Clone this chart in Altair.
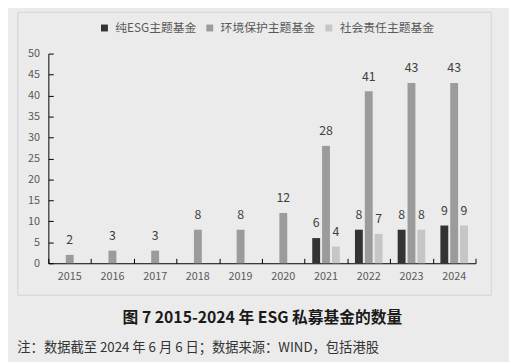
import altair as alt
import pandas as pd

years = ["2015", "2016", "2017", "2018", "2019", "2020", "2021", "2022", "2023", "2024"]
series = ["纯ESG主题基金", "环境保护主题基金", "社会责任主题基金"]
pure_esg = [None, None, None, None, None, None, 6, 8, 8, 9]
env_protect = [2, 3, 3, 8, 8, 12, 28, 41, 43, 43]
social_resp = [None, None, None, None, None, None, 4, 7, 8, 9]
colors = ["#333333", "#9b9b9b", "#c6c6c6"]
y_ticks = list(range(0, 51, 5))
caption = "图 7 2015-2024 年 ESG 私募基金的数量"
note = "注：数据截至 2024 年 6 月 6 日；数据来源：WIND，包括港股"

rows = []
for name, vals in zip(series, [pure_esg, env_protect, social_resp]):
    for yr, v in zip(years, vals):
        if v is not None:
            rows.append({"year": yr, "series": name, "value": v})
df = pd.DataFrame(rows)

FONT = "Noto Sans CJK SC"
W, H = 434, 213
BG = "#ebebeb"

x_scale = alt.Scale(domain=years, paddingInner=0, paddingOuter=0)
y_scale = alt.Scale(domain=[0, 50], nice=False)
off_scale = alt.Scale(domain=series, paddingInner=0.2, paddingOuter=0.77)

frame = alt.Chart(pd.DataFrame({"k": [0]})).mark_rect(
    filled=False, stroke="#d3d3d3", strokeWidth=1
).encode(
    x=alt.value(-31), x2=alt.value(450), y=alt.value(-42), y2=alt.value(245.5)
)

bars = alt.Chart(df).mark_bar().encode(
    x=alt.X("year:N", scale=x_scale, sort=years,
            axis=alt.Axis(orient="bottom", title=caption, ticks=False, labelAngle=0,
                          labelPadding=8, labelFontSize=11, labelColor="#595959",
                          labelFont=FONT, domainColor="#000000", domainWidth=1,
                          titleFont=FONT, titleFontSize=16, titleFontWeight="bold",
                          titleColor="#1a1a1a", titlePadding=28)),
    xOffset=alt.XOffset("series:N", scale=off_scale, sort=series),
    y=alt.Y("value:Q", scale=y_scale,
            axis=alt.Axis(orient="left", values=y_ticks, ticks=False, grid=False,
                          title=None, labelPadding=9, labelFontSize=11,
                          labelColor="#595959", labelFont=FONT,
                          domainColor="#000000", domainWidth=1)),
    color=alt.Color("series:N", scale=alt.Scale(domain=series, range=colors),
                    sort=series,
                    legend=alt.Legend(title=None, orient="none", direction="horizontal",
                                      legendX=51, legendY=-32, symbolType="square",
                                      symbolSize=49, symbolStrokeWidth=0,
                                      labelFont=FONT, labelFontSize=12,
                                      labelColor="#595959", labelOffset=5,
                                      columnPadding=7)),
)

labels = alt.Chart(df).mark_text(
    dy=-15, baseline="middle", font=FONT, fontSize=12.5, color="#404040"
).encode(
    x=alt.X("year:N", scale=x_scale, sort=years,
            axis=alt.Axis(orient="top", offset=-H, labels=False, domain=False,
                          ticks=True, tickBand="extent", tickSize=5,
                          tickColor="#000000", title=None)),
    xOffset=alt.XOffset("series:N", scale=off_scale, sort=series),
    y=alt.Y("value:Q", scale=y_scale,
            axis=alt.Axis(orient="right", offset=-W, values=y_ticks, labels=False,
                          domain=False, ticks=True, tickSize=5, grid=False,
                          tickColor="#000000", title=None)),
    text=alt.Text("value:Q"),
)

chart = alt.layer(frame, bars, labels).resolve_axis(
    x="independent", y="independent"
).properties(
    width=W, height=H,
    autosize=alt.AutoSizeParams(type="none"),
    padding={"left": 41, "top": 43.5, "right": 34, "bottom": 97.5},
    background=BG,
    title=alt.TitleParams(note, orient="bottom", anchor="start", font=FONT,
                          fontSize=13.5, fontWeight="normal", color="#333333",
                          offset=16),
).configure_view(stroke=None)

chart.save("out.html", embed_options={"renderer": "svg", "actions": False})
